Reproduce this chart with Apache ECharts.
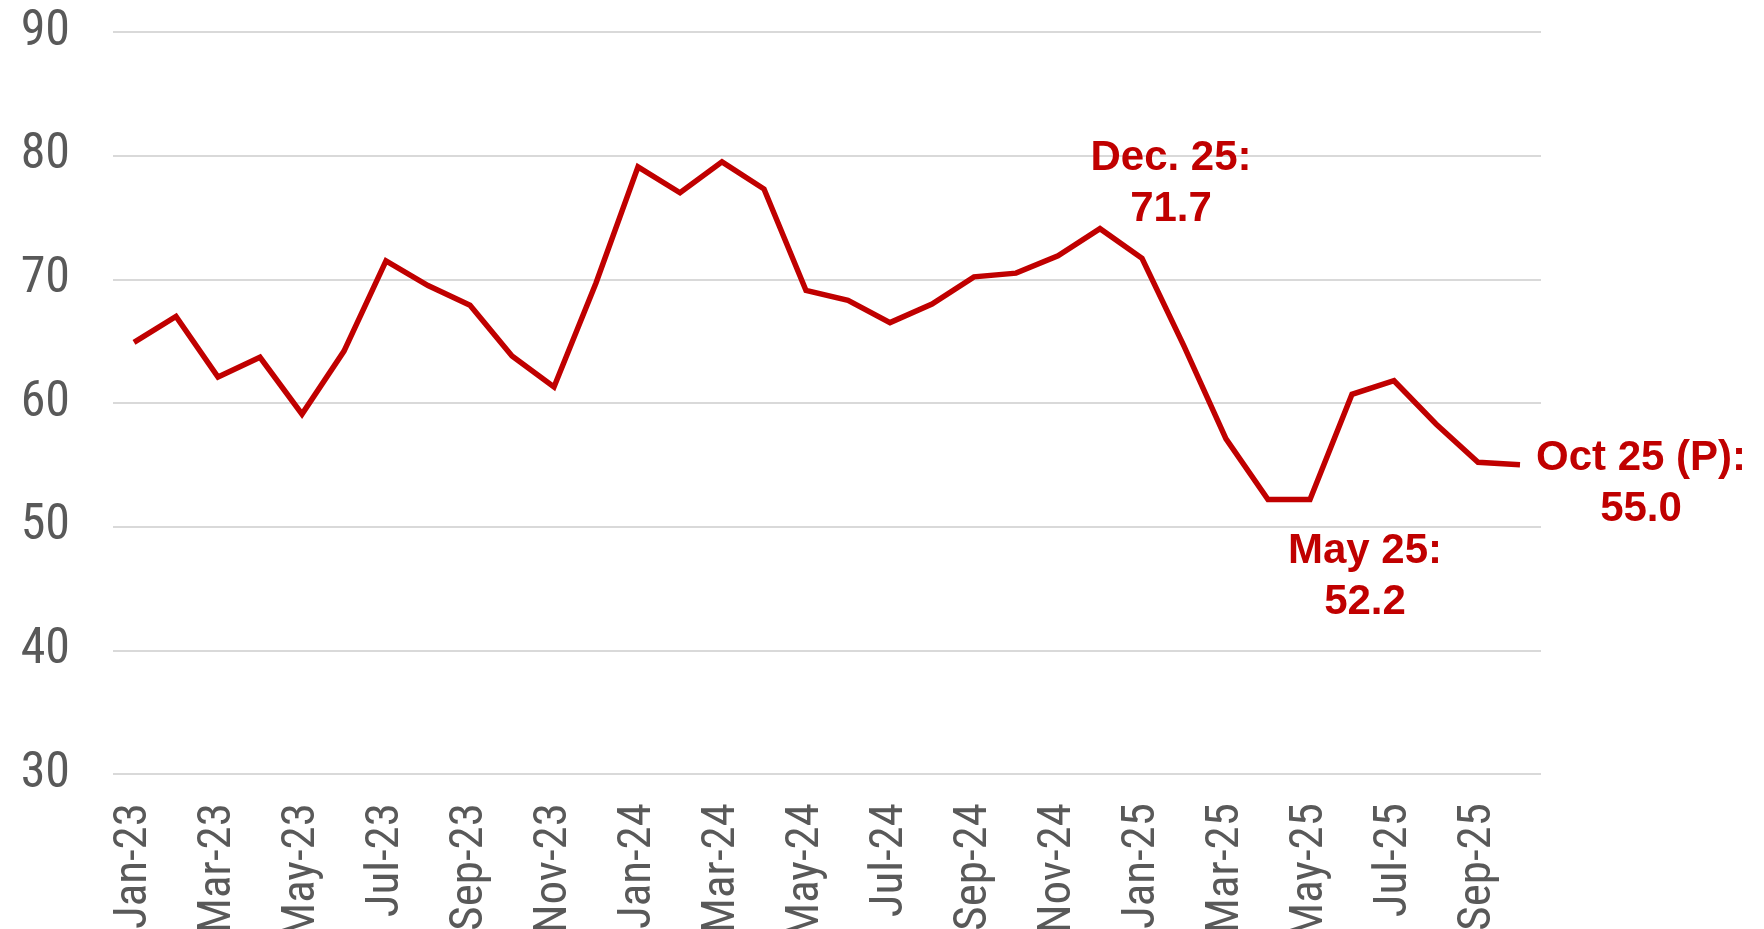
<!DOCTYPE html>
<html>
<head>
<meta charset="utf-8">
<script src="https://cdn.jsdelivr.net/npm/echarts@6/dist/echarts.min.js"></script>
<style>
  html, body { margin: 0; padding: 0; background: #fff; }
  #chart { width: 1764px; height: 929px; }
</style>
</head>
<body>
<div id="chart"></div>
<script>
const months = [
    'Jan-23', 'Feb-23', 'Mar-23', 'Apr-23', 'May-23', 'Jun-23', 'Jul-23', 'Aug-23', 'Sep-23', 'Oct-23', 'Nov-23', 'Dec-23',
    'Jan-24', 'Feb-24', 'Mar-24', 'Apr-24', 'May-24', 'Jun-24', 'Jul-24', 'Aug-24', 'Sep-24', 'Oct-24', 'Nov-24', 'Dec-24',
    'Jan-25', 'Feb-25', 'Mar-25', 'Apr-25', 'May-25', 'Jun-25', 'Jul-25', 'Aug-25', 'Sep-25', 'Oct-25',
];
const values = [
    64.9, 67.0, 62.1, 63.7, 59.1, 64.2, 71.5, 69.5, 67.9, 63.8, 61.3, 69.7,
    79.1, 77.0, 79.5, 77.3, 69.1, 68.3, 66.5, 68.0, 70.2, 70.5, 71.9, 74.1,
    71.7, 64.6, 57.1, 52.2, 52.2, 60.7, 61.8, 58.3, 55.2, 55.0,
];
const yTicks = [30, 40, 50, 60, 70, 80, 90];

// callouts: which point, text
const callouts = [
    { month: 'Jan-25', text: 'Dec. 25:\n71.7', offset: [29, -74] },
    { month: 'May-25', text: 'May 25:\n52.2', offset: [55, 77] },
    { month: 'Oct-25', text: 'Oct 25 (P):\n55.0', offset: [121, 19] },
];

const RED = '#C00000';
const GREY = '#595959';
const NARROW = "'Roboto Condensed', 'Liberation Sans', Arial, sans-serif";

const chart = echarts.init(document.getElementById('chart'));

const markData = callouts.map(c => {
    const idx = months.indexOf(c.month);
    return {
        coord: [idx, values[idx]],
        label: { formatter: c.text, offset: c.offset },
    };
});

chart.setOption({
    backgroundColor: '#fff',
    animation: false,
    grid: { left: 113, right: 223, top: 32, bottom: 155, containLabel: false, outerBoundsMode: 'none' },
    xAxis: {
        type: 'category',
        data: months,
        boundaryGap: true,
        axisLine: { show: false },
        axisTick: { show: false },
        axisLabel: {
            interval: 1, rotate: 90, margin: 29, hideOverlap: false,
            color: GREY, fontSize: 47, fontFamily: NARROW,
        },
    },
    yAxis: {
        type: 'value',
        min: yTicks[0], max: yTicks[yTicks.length - 1], interval: 10,
        axisLine: { show: false },
        axisTick: { show: false },
        axisLabel: { margin: 43, color: GREY, fontSize: 50, fontFamily: NARROW },
        splitLine: { lineStyle: { color: '#D9D9D9', width: 2 } },
    },
    series: [{
        type: 'line',
        data: values,
        symbol: 'none',
        lineStyle: { color: RED, width: 5.5, join: 'miter' },
        z: 5,
        markPoint: {
            symbol: 'circle',
            symbolSize: 1,
            itemStyle: { color: 'rgba(0,0,0,0)' },
            label: {
                show: true, position: 'inside',
                color: RED, fontSize: 42, fontWeight: 'bold',
                fontFamily: "'Liberation Sans', Arial, sans-serif",
                align: 'center', verticalAlign: 'middle', lineHeight: 51,
            },
            data: markData,
        },
    }],
});
</script>
</body>
</html>
